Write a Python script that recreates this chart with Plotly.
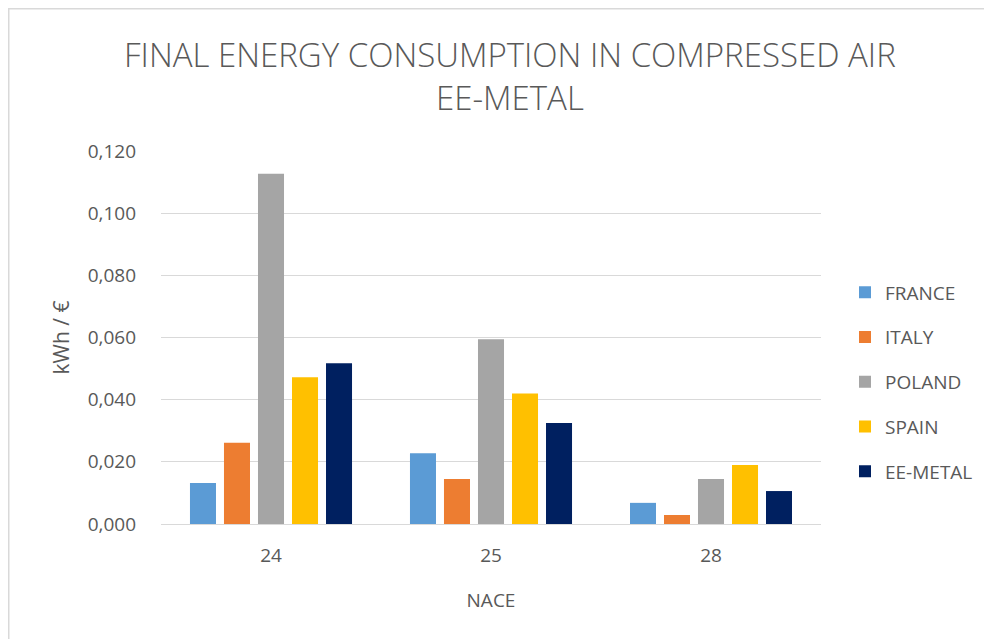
import plotly.graph_objects as go

categories = ["24", "25", "28"]
series_names = ["FRANCE", "ITALY", "POLAND", "SPAIN", "EE-METAL"]
france = [0.0132, 0.0228, 0.0068]
italy = [0.0261, 0.0145, 0.0029]
poland = [0.1127, 0.0594, 0.0145]
spain = [0.0472, 0.0420, 0.0190]
ee_metal = [0.0517, 0.0325, 0.0106]
tick_vals = [0, 0.02, 0.04, 0.06, 0.08, 0.10, 0.12]
tick_text = ["0,000", "0,020", "0,040", "0,060", "0,080", "0,100", "0,120"]

colors = ["#5B9BD5", "#ED7D31", "#A5A5A5", "#FFC000", "#002060"]
values = [france, italy, poland, spain, ee_metal]

# page body has an 8px margin; work in screen coords and convert
OFF = 8
W, H = 992, 639
L = 161 - OFF
T = 151 - OFF
R = W - (821 - OFF)
B = H - (524 - OFF)
TXT = "#595959"
FONT = "Open Sans"

fig = go.Figure()
for i, (name, vals) in enumerate(zip(series_names, values)):
    fig.add_trace(go.Bar(
        x=categories, y=vals, name=name,
        marker=dict(color=colors[i], line=dict(width=0)),
        legendgroup=name,
    ))

def py(y):  # screen pixel y -> paper
    y = y - OFF
    return (H - B - y) / (H - T - B)

def px(x):
    x = x - OFF
    return (x - L) / (W - L - R)

fig.update_layout(
    width=W, height=H,
    margin=dict(l=L, r=R, t=T, b=B),
    paper_bgcolor="white", plot_bgcolor="white",
    barmode="group", bargap=0.227, bargroupgap=0.235,
    font=dict(family=FONT, color=TXT, size=19),
    showlegend=True,
    legend=dict(
        x=px(845), xanchor="left", y=py(382), yanchor="middle",
        font=dict(size=19, color=TXT), tracegroupgap=17,
        itemwidth=30, traceorder="grouped", bgcolor="rgba(0,0,0,0)",
    ),
    xaxis=dict(
        type="category", showgrid=False, showline=False, ticks="",
        tickfont=dict(size=19, color=TXT), ticklabelstandoff=18,
        title=dict(text="NACE", font=dict(size=19, color=TXT), standoff=26),
    ),
    yaxis=dict(
        range=[0, 0.12], tickvals=tick_vals, ticktext=tick_text,
        showgrid=True, gridcolor="#D9D9D9", gridwidth=1.3,
        zeroline=True, zerolinecolor="#D9D9D9", zerolinewidth=1.3,
        showline=False, ticks="", ticklabelstandoff=24,
        tickfont=dict(size=19, color=TXT),
        title=dict(text="kWh / €", font=dict(size=21, color=TXT), standoff=12),
    ),
    annotations=[
        dict(text="FINAL ENERGY CONSUMPTION IN COMPRESSED AIR", xref="paper", yref="paper",
             x=px(510), y=py(54), xanchor="center", yanchor="middle", showarrow=False,
             font=dict(size=33, color=TXT, family=FONT, weight=300)),
        dict(text="EE-METAL", xref="paper", yref="paper",
             x=px(510), y=py(98), xanchor="center", yanchor="middle", showarrow=False,
             font=dict(size=33, color=TXT, family=FONT, weight=300)),
    ],
    shapes=[
        dict(type="rect", xref="paper", yref="paper",
             x0=px(8.75), x1=px(1100), y0=py(700), y1=py(8.75),
             line=dict(color="#D9D9D9", width=1.5), fillcolor="rgba(0,0,0,0)", layer="below"),
    ],
)

fig.write_html("out.html")
